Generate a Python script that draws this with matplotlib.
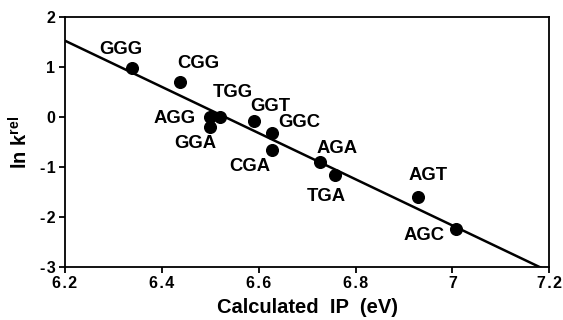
import matplotlib
matplotlib.use("Agg")
import matplotlib.pyplot as plt
import numpy as np

plt.rcParams['font.family'] = ['Liberation Sans', 'DejaVu Sans']
plt.rcParams['font.weight'] = 'bold'
plt.rcParams['mathtext.fontset'] = 'custom'
plt.rcParams['mathtext.rm'] = 'Liberation Sans:bold'
plt.rcParams['mathtext.bf'] = 'Liberation Sans:bold'

labels = ["GGG", "CGG", "AGG", "TGG", "GGA", "GGT", "GGC", "CGA", "AGA", "TGA", "AGT", "AGC"]
ip = [6.339, 6.438, 6.500, 6.519, 6.500, 6.590, 6.628, 6.628, 6.727, 6.758, 6.929, 7.008]
lnk = [0.99, 0.71, 0.01, 0.01, -0.19, -0.07, -0.32, -0.67, -0.91, -1.17, -1.60, -2.25]
fit_slope = -4.63
fit_intercept = 30.236
xtick_vals = [6.2, 6.4, 6.6, 6.8, 7.0, 7.2]
xtick_labels = ["6.2", "6.4", "6.6", "6.8", "7", "7.2"]
ytick_vals = [-3, -2, -1, 0, 1, 2]
ytick_labels = ["-3", "-2", "-1", "0", "1", "2"]

# label offsets in pixels (layout)
offsets = [(-12, 18), (18, 18), (-36, -2), (13, 24), (-15, -17), (16, 14),
           (27, 11), (-22, -16), (17, 14), (-9, -21), (10, 21), (-32, -6)]

def spaced(s):
    return "\u200a".join(s)

fig = plt.figure(figsize=(5.63, 3.2), dpi=100)
ax = fig.add_axes([0.1155, 0.1666, 0.8602, 0.7794])

xs = np.array([6.2, 7.2])
ax.plot(xs, fit_slope * xs + fit_intercept, color='black', lw=1.8, solid_capstyle='butt')
ax.plot(ip, lnk, 'o', color='black', markersize=8.4, zorder=3)

for lab, x, y, off in zip(labels, ip, lnk, offsets):
    ax.annotate(lab, (x, y), xytext=off, textcoords='offset pixels',
                ha='center', va='center', fontsize=13.3, fontweight='bold')

ax.set_xlim(6.2, 7.2)
ax.set_ylim(-3, 2)
ax.set_xticks(xtick_vals)
ax.set_xticklabels([spaced(t) for t in xtick_labels])
ax.set_yticks(ytick_vals)
ax.set_yticklabels([spaced(t) for t in ytick_labels])
ax.tick_params(direction='out', length=4, width=1.3, labelsize=11.5, pad=3)
for s in ax.spines.values():
    s.set_linewidth(1.3)

ax.set_xlabel("Calculated  IP  (eV)", fontsize=14.5, fontweight='bold', labelpad=5)
ax.set_ylabel(r"ln k$^{\mathrm{rel}}$", fontsize=14.5, fontweight='bold', labelpad=6)

fig.savefig("out.png", dpi=100)
